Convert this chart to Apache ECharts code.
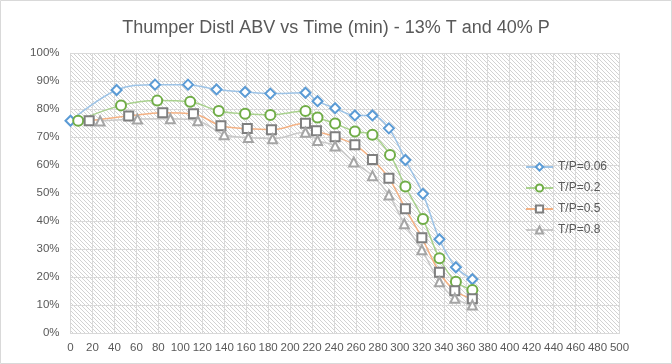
<!DOCTYPE html>
<html>
<head>
<meta charset="utf-8">
<script src="https://cdn.jsdelivr.net/npm/echarts@6/dist/echarts.min.js"></script>
<style>
html,body{margin:0;padding:0;background:#fff;}
#c{width:672px;height:364px;}
</style>
</head>
<body>
<div id="c"></div>
<script>
// Time (min) and ABV (%) for each T/P setting
const time006 = [0, 42, 77, 107, 133, 159, 182, 214, 225, 241, 259, 275, 290, 305, 321, 336, 351, 366];
const abv006  = [75.9, 86.9, 88.8, 88.8, 87.1, 86.2, 85.6, 85.9, 82.9, 80.4, 77.8, 77.8, 73.2, 61.9, 49.8, 33.6, 23.6, 19.3];
const time02  = [7, 46, 79, 109, 135, 159, 182, 214, 225, 241, 259, 275, 291, 305, 321, 336, 351, 366];
const abv02   = [75.9, 81.4, 83.1, 82.7, 79.4, 78.4, 78.0, 79.4, 77.1, 74.9, 72.1, 70.9, 63.7, 52.4, 40.8, 26.8, 18.4, 15.5];
const time05  = [17, 53, 84, 112, 137, 161, 183, 214, 224, 241, 259, 275, 290, 305, 320, 336, 350, 366];
const abv05   = [75.9, 77.6, 78.8, 78.4, 74.1, 73.1, 72.7, 75.0, 72.3, 70.2, 67.3, 62.1, 55.4, 44.5, 34.1, 21.8, 15.2, 12.3];
const time08  = [27, 61, 91, 116, 140, 162, 184, 214, 225, 241, 258, 275, 290, 304, 320, 336, 350, 366];
const abv08   = [75.8, 76.5, 76.6, 75.9, 70.9, 69.9, 69.5, 71.8, 68.9, 66.9, 61.2, 56.3, 49.4, 39.1, 29.8, 18.4, 12.5, 10.1];
const seriesNames = ['T/P=0.06', 'T/P=0.2', 'T/P=0.5', 'T/P=0.8'];

function zip(xs, ys){ return xs.map((x,i)=>[x, ys[i]]); }

// hatch pattern
const pc = document.createElement('canvas');
pc.width = 4; pc.height = 4;
const pctx = pc.getContext('2d');
pctx.fillStyle = '#fff';
pctx.fillRect(0,0,4,4);
pctx.fillStyle = '#d2d2d2';
for (let i=0;i<4;i++){ pctx.fillRect(i,i,1,1); }

const FONT = 'Liberation Sans';
const chart = echarts.init(document.getElementById('c'), null, {renderer:'canvas'});

function mk(name, data, symbol, size, markColor, lineColor){
  return {
    name: name, type: 'line', data: data, smooth: 0.35,
    symbol: symbol, symbolSize: size, showAllSymbol: true,
    lineStyle: {color: lineColor, width: 1.5},
    itemStyle: {color: '#fff', borderColor: markColor, borderWidth: 2},
    emphasis: {disabled: true},
    animation: false
  };
}

chart.setOption({
  animation: false,
  backgroundColor: '#fff',
  title: {
    text: 'Thumper Distl ABV vs Time (min) - 13% T and 40% P',
    left: 'center', top: 14,
    textStyle: {fontFamily: FONT, fontSize: 18, fontWeight: 'normal', color: '#595959'}
  },
  graphic: [{
    type: 'rect', shape: {x: 0.5, y: 0.5, width: 671, height: 363},
    style: {fill: 'none', stroke: '#d9d9d9', lineWidth: 1}, silent: true, z: -1
  }],
  grid: {
    left: 70.5, right: 52.5, top: 53.3, bottom: 30.7,
    show: true, borderWidth: 0,
    backgroundColor: {image: pc, repeat: 'repeat'}
  },
  legend: {
    orient: 'vertical', left: 520, top: 156,
    itemWidth: 27, itemHeight: 9, itemGap: 9,
    textStyle: {fontFamily: FONT, fontSize: 12, color: '#595959'},
    data: seriesNames
  },
  xAxis: {
    type: 'value', min: 0, max: 500, interval: 20,
    axisLine: {show: true, lineStyle: {color: '#d9d9d9'}},
    axisTick: {show: false},
    splitLine: {show: true, lineStyle: {color: '#d9d9d9', width: 1}},
    axisLabel: {fontFamily: FONT, fontSize: 11.5, color: '#595959', margin: 9}
  },
  yAxis: {
    type: 'value', min: 0, max: 100, interval: 10,
    axisLine: {show: true, lineStyle: {color: '#d9d9d9'}},
    axisTick: {show: false},
    splitLine: {show: true, lineStyle: {color: '#d9d9d9', width: 1}},
    axisLabel: {fontFamily: FONT, fontSize: 11.5, color: '#595959', margin: 11, formatter: '{value}%'}
  },
  series: [
    mk(seriesNames[0], zip(time006, abv006), 'diamond', 10, '#5B9BD5', '#9DC3E6'),
    mk(seriesNames[1], zip(time02, abv02), 'circle', 10, '#70AD47', '#A9D18E'),
    mk(seriesNames[2], zip(time05, abv05), 'rect', 9, '#7F7F7F', '#F4B183'),
    mk(seriesNames[3], zip(time08, abv08), 'triangle', 9, '#A5A5A5', '#C9C9C9')
  ]
});
</script>
</body>
</html>
